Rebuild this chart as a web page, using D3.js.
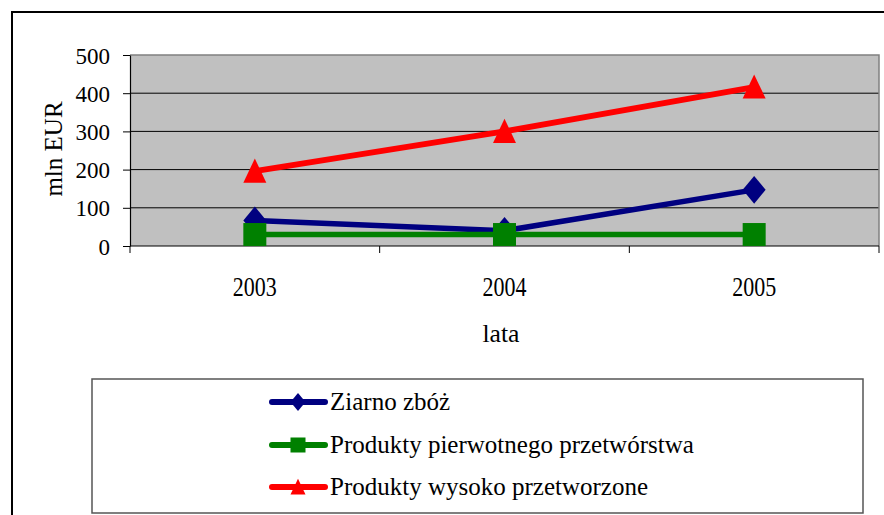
<!DOCTYPE html>
<html><head><meta charset="utf-8">
<script src="https://cdn.jsdelivr.net/npm/d3@7"></script>
<style>html,body{margin:0;padding:0;background:#fff;}
svg{display:block;}
svg text{font-family:"Liberation Serif","Times New Roman",Times,"DejaVu Serif",serif !important;}</style>
</head><body>
<svg id="c" width="884" height="515"></svg>
<script>
const years = ["2003", "2004", "2005"];
const yTicks = [0, 100, 200, 300, 400, 500];
const ziarno = [67, 40, 147];
const pierwotne = [30, 30, 30];
const wysoko = [196, 300, 416];
const seriesNames = ["Ziarno zbóż", "Produkty pierwotnego przetwórstwa", "Produkty wysoko przetworzone"];
const seriesColors = ["#000080", "#008000", "#FF0000"];
const seriesShapes = ["diamond", "square", "triangle"];
const seriesValues = [ziarno, pierwotne, wysoko];

const svg = d3.select("#c");
// outer frame
svg.append("rect").attr("x", 12).attr("y", 12).attr("width", 1000).attr("height", 600)
  .attr("fill", "none").attr("stroke", "#000").attr("stroke-width", 2);

const L = 130, R = 879, T = 55, B = 246;
const x = d3.scaleBand().domain(years).range([L, R]).padding(0);
const y = d3.scaleLinear().domain([0, 500]).range([B, T]);
const cx = d => x(d) + x.bandwidth() / 2;

svg.append("rect").attr("x", L).attr("y", T).attr("width", R - L).attr("height", B - T).attr("fill", "#C0C0C0");
// gridlines
svg.append("g").selectAll("line").data(yTicks.filter(v => v > 0 && v < 500)).join("line")
  .attr("x1", L).attr("x2", R).attr("y1", d => y(d)).attr("y2", d => y(d))
  .attr("stroke", "#000").attr("stroke-width", 1);
// top & right border
svg.append("path").attr("d", `M${L},${y(500)}H${R}V${B}`).attr("fill", "none").attr("stroke", "#808080").attr("stroke-width", 1.5);

// y axis
const ya = svg.append("g").attr("transform", `translate(${L},0)`)
  .call(d3.axisLeft(y).tickValues(yTicks).tickSize(7).tickPadding(13).tickSizeOuter(0));
ya.select(".domain").attr("stroke", "#000").attr("stroke-width", 1.2);
ya.selectAll(".tick line").attr("stroke", "#000");
ya.selectAll(".tick text").attr("font-size", 23).attr("fill", "#000").attr("dy", "0.35em");

// x axis
const xa = svg.append("g").attr("transform", `translate(0,${B})`);
xa.append("line").attr("x1", L).attr("x2", R).attr("stroke", "#000").attr("stroke-width", 1.2);
const bounds = years.map(d => x(d)).concat([R]);
xa.selectAll(".tk").data(bounds).join("line").attr("class", "tk")
  .attr("x1", d => d).attr("x2", d => d).attr("y1", 0).attr("y2", 7).attr("stroke", "#000");
xa.selectAll(".lb").data(years).join("text").attr("class", "lb")
  .attr("x", d => cx(d)).attr("y", 50).attr("text-anchor", "middle")
  .attr("font-size", 27).attr("textLength", 44).attr("lengthAdjust", "spacingAndGlyphs").text(d => d);

svg.append("text").attr("x", 501).attr("y", 342).attr("text-anchor", "middle").attr("font-size", 26)
  .attr("textLength", 37).attr("lengthAdjust", "spacingAndGlyphs").text("lata");
svg.append("text").attr("transform", "translate(62,149) rotate(-90)").attr("text-anchor", "middle")
  .attr("font-size", 25).text("mln EUR");

function marker(g, shape, px, py, s, color) {
  if (shape === "diamond") {
    g.append("path").attr("d", `M${px},${py - s * 0.6}L${px + s * 0.5},${py}L${px},${py + s * 0.6}L${px - s * 0.5},${py}Z`).attr("fill", color);
  } else if (shape === "square") {
    g.append("rect").attr("x", px - s / 2).attr("y", py - s / 2).attr("width", s).attr("height", s).attr("fill", color);
  } else {
    g.append("path").attr("d", `M${px},${py - s * 0.55}L${px + s * 0.5},${py + s * 0.5}L${px - s * 0.5},${py + s * 0.5}Z`).attr("fill", color);
  }
}

const line = d3.line().x((d, i) => cx(years[i])).y(d => y(d));
seriesValues.forEach((vals, k) => {
  const g = svg.append("g");
  g.append("path").attr("d", line(vals)).attr("fill", "none").attr("stroke", seriesColors[k])
    .attr("stroke-width", k === 2 ? 6 : 5.5);
  vals.forEach((v, i) => marker(g, seriesShapes[k], cx(years[i]), y(v), 23, seriesColors[k]));
});

// legend
const lg = svg.append("g");
lg.append("rect").attr("x", 92).attr("y", 379).attr("width", 771).attr("height", 134)
  .attr("fill", "#fff").attr("stroke", "#555").attr("stroke-width", 1.5);
const rowsY = [402, 445, 487];
seriesNames.forEach((n, k) => {
  const gy = rowsY[k];
  lg.append("line").attr("x1", 272).attr("x2", 325).attr("y1", gy).attr("y2", gy)
    .attr("stroke", seriesColors[k]).attr("stroke-width", 6).attr("stroke-linecap", "round");
  marker(lg, seriesShapes[k], 298, gy, 15, seriesColors[k]);
  lg.append("text").attr("x", 330).attr("y", gy + 8).attr("font-size", 25).text(n);
});
</script>
</body></html>
